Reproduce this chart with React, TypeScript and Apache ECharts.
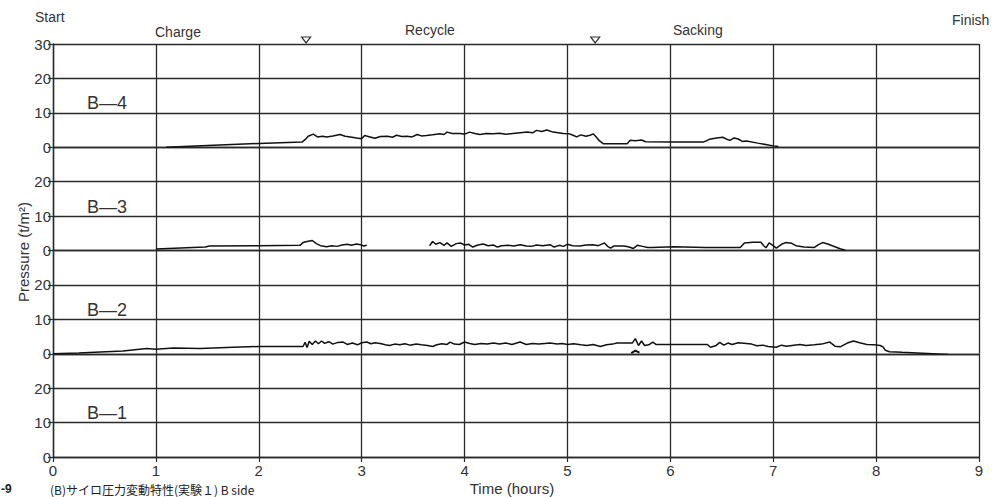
import React, { useEffect, useRef } from "react";
import * as echarts from "echarts";

// ---- data (hours, pressure t/m²) ----
const panelNames = ["B\u20144", "B\u20143", "B\u20142", "B\u20141"];
const yTicks = [0, 10, 20, 30];
const xTicks = [0, 1, 2, 3, 4, 5, 6, 7, 8, 9];
const phaseLabels = ["Charge", "Recycle", "Sacking"];
const phaseMarks = [2.46, 5.27];

const b4 = [
  [1.1, 0], [1.5, 0.5], [2.0, 1.1], [2.42, 1.5], [2.45, 2.2], [2.48, 3.2], [2.53, 3.8], [2.57, 3.0],
  [2.62, 3.2], [2.66, 3.0], [2.72, 3.3], [2.79, 3.7], [2.84, 3.2], [2.89, 3.0], [2.95, 2.7], [3.0, 2.5],
  [3.03, 3.4], [3.08, 3.0], [3.13, 2.6], [3.18, 3.1], [3.25, 3.2], [3.3, 2.9], [3.34, 3.5], [3.39, 3.1],
  [3.44, 3.2], [3.49, 3.0], [3.54, 3.7], [3.58, 3.3], [3.63, 3.4], [3.69, 3.6], [3.76, 3.9], [3.8, 3.7],
  [3.83, 4.4], [3.88, 4.0], [3.96, 4.0], [4.0, 3.8], [4.05, 4.4], [4.1, 4.0], [4.15, 3.7], [4.21, 4.0],
  [4.28, 3.9], [4.34, 4.1], [4.4, 3.8], [4.47, 4.0], [4.54, 4.2], [4.61, 4.4], [4.66, 4.2], [4.7, 4.9],
  [4.75, 4.6], [4.8, 5.0], [4.86, 4.4], [4.91, 4.2], [4.96, 4.0], [5.02, 3.9], [5.06, 3.4], [5.09, 3.0],
  [5.13, 3.6], [5.18, 3.2], [5.22, 3.5], [5.25, 3.9], [5.28, 3.0], [5.31, 1.9], [5.35, 1.0], [5.58, 1.0],
  [5.61, 2.0], [5.66, 1.9], [5.72, 2.1], [5.76, 1.6], [6.0, 1.5], [6.32, 1.5], [6.38, 2.3], [6.45, 2.7],
  [6.51, 2.9], [6.55, 2.3], [6.58, 2.0], [6.62, 2.7], [6.66, 2.4], [6.7, 1.7], [6.74, 1.8], [6.85, 1.2],
  [7.0, 0.4], [7.05, 0.2],
];

const b3a = [
  [1.0, 0.4], [1.3, 0.8], [1.48, 1.0], [1.52, 1.3], [2.0, 1.4], [2.4, 1.5], [2.43, 2.3], [2.48, 2.7],
  [2.52, 2.9], [2.56, 2.0], [2.6, 1.4], [2.66, 1.1], [2.71, 1.4], [2.76, 1.2], [2.81, 1.6], [2.86, 1.8],
  [2.9, 1.5], [2.95, 1.9], [2.99, 1.7], [3.02, 1.3], [3.05, 1.5],
];
const b3b = [
  [3.66, 1.4], [3.69, 2.6], [3.72, 1.8], [3.76, 2.3], [3.8, 1.5], [3.83, 2.2], [3.87, 1.2], [3.92, 2.0],
  [3.96, 2.2], [4.0, 1.6], [4.04, 1.8], [4.08, 1.0], [4.13, 1.6], [4.18, 1.9], [4.23, 1.4], [4.28, 1.6],
  [4.32, 1.0], [4.36, 1.4], [4.42, 1.5], [4.48, 1.3], [4.54, 1.7], [4.6, 1.3], [4.65, 1.2], [4.7, 1.6],
  [4.76, 1.4], [4.83, 1.7], [4.87, 1.0], [4.92, 1.5], [4.96, 1.2], [5.0, 1.8], [5.05, 1.4], [5.12, 1.3],
  [5.18, 1.6], [5.25, 1.7], [5.3, 1.4], [5.36, 2.2], [5.39, 1.2], [5.42, 0.7], [5.45, 1.3], [5.55, 1.3],
  [5.6, 1.0], [5.64, 0.6], [5.68, 1.5], [5.73, 1.2], [5.78, 0.9], [5.82, 0.9], [6.03, 1.1], [6.34, 0.9],
  [6.68, 0.9], [6.72, 2.2], [6.8, 2.4], [6.88, 2.4], [6.91, 1.3], [6.93, 0.8], [6.96, 2.2], [7.0, 1.4],
  [7.03, 0.7], [7.08, 1.8], [7.12, 2.3], [7.18, 2.1], [7.22, 1.4], [7.3, 1.0], [7.4, 0.9], [7.44, 1.7],
  [7.48, 2.3], [7.53, 1.9], [7.58, 1.3], [7.65, 0.5], [7.7, 0.1],
];

const b2 = [
  [0, 0], [0.25, 0.2], [0.46, 0.5], [0.68, 0.8], [0.91, 1.5], [1.0, 1.3], [1.17, 1.7], [1.43, 1.5],
  [1.75, 1.9], [2.0, 2.1], [2.43, 2.1], [2.45, 3.3], [2.47, 1.8], [2.49, 3.6], [2.52, 2.7], [2.55, 3.7],
  [2.58, 2.9], [2.61, 3.7], [2.64, 3.0], [2.68, 3.5], [2.72, 2.8], [2.77, 3.3], [2.82, 3.4], [2.86, 2.7],
  [2.91, 3.1], [2.96, 2.6], [3.0, 3.2], [3.05, 3.4], [3.09, 2.9], [3.13, 3.2], [3.18, 3.0], [3.23, 2.6],
  [3.27, 2.4], [3.32, 2.8], [3.37, 2.6], [3.42, 2.9], [3.47, 2.5], [3.53, 2.8], [3.58, 2.6], [3.64, 2.4],
  [3.69, 2.1], [3.73, 2.6], [3.78, 2.9], [3.83, 2.7], [3.86, 3.4], [3.9, 2.8], [3.95, 2.7], [4.0, 3.4],
  [4.05, 3.0], [4.1, 2.7], [4.16, 3.0], [4.22, 2.8], [4.28, 3.1], [4.34, 2.8], [4.4, 3.1], [4.46, 2.7],
  [4.54, 3.4], [4.6, 2.7], [4.66, 3.0], [4.72, 2.8], [4.78, 3.0], [4.83, 3.1], [4.9, 2.8], [4.95, 3.0],
  [5.0, 2.7], [5.06, 2.9], [5.13, 2.6], [5.19, 2.4], [5.25, 2.7], [5.32, 2.1], [5.38, 2.6], [5.44, 2.8],
  [5.48, 3.1], [5.63, 3.1], [5.66, 4.4], [5.69, 2.4], [5.72, 3.7], [5.75, 2.4], [5.79, 2.6], [5.83, 3.4],
  [5.86, 2.7], [6.36, 2.7], [6.39, 1.9], [6.44, 2.3], [6.48, 3.3], [6.52, 2.5], [6.56, 3.1], [6.6, 2.7],
  [6.66, 3.2], [6.74, 3.0], [6.79, 2.8], [6.84, 2.3], [6.9, 2.5], [6.95, 2.1], [7.03, 1.9], [7.08, 2.5],
  [7.13, 2.2], [7.2, 2.5], [7.26, 2.7], [7.32, 2.4], [7.4, 2.6], [7.47, 2.8], [7.55, 3.4], [7.6, 2.2],
  [7.65, 2.0], [7.72, 3.1], [7.78, 3.7], [7.84, 3.2], [7.91, 2.7], [7.98, 2.6], [8.04, 2.4], [8.07, 1.9],
  [8.09, 1.0], [8.13, 0.6], [8.25, 0.4], [8.4, 0.2], [8.55, 0.0], [8.7, -0.2],
];
const b2blip = [[5.62, 0.2], [5.66, 0.9], [5.7, 0.3]];

// ---- layout ----
const GRID_LEFT = 53;
const GRID_WIDTH = 926;
const GRID_TOP = 44;
const PANEL_H = 103.25;
const INK = "#2a2a2a";
const FONT = "Liberation Sans, Arial, sans-serif";

export default function App() {
  const ref = useRef<HTMLDivElement>(null);

  useEffect(() => {
    if (!ref.current) return;
    const chart = echarts.init(ref.current, undefined, { renderer: "svg" });

    const grids = panelNames.map((_, i) => ({
      left: GRID_LEFT,
      width: GRID_WIDTH,
      top: GRID_TOP + i * PANEL_H,
      height: PANEL_H,
    }));

    const xAxes = panelNames.map((_, i) => {
      const bottom = i === panelNames.length - 1;
      return {
        type: "value",
        gridIndex: i,
        min: xTicks[0],
        max: xTicks[xTicks.length - 1],
        interval: 1,
        axisLine: { show: bottom, lineStyle: { color: INK, width: 1.4 } },
        axisTick: { show: bottom, length: 5, lineStyle: { color: INK, width: 1.2 } },
        axisLabel: {
          show: bottom,
          color: "#333",
          fontSize: 15,
          lineHeight: 15,
          fontFamily: FONT,
          margin: 6,
        },
        splitLine: { show: true, lineStyle: { color: INK, width: 1.3 } },
      };
    });

    const yAxes = panelNames.map((_, i) => ({
      type: "value",
      gridIndex: i,
      min: yTicks[0],
      max: yTicks[yTicks.length - 1],
      interval: 10,
      axisLine: { show: true, lineStyle: { color: INK, width: 1.4 } },
      axisTick: { show: true, length: 5, lineStyle: { color: INK, width: 1.2 } },
      axisLabel: {
        color: "#333",
        fontSize: 15,
        fontFamily: FONT,
        margin: 2,
        showMaxLabel: i === 0,
        showMinLabel: true,
      },
      splitLine: { show: true, lineStyle: { color: INK, width: 1.3 } },
    }));

    const lineSeries = (data: number[][], idx: number, extra: any = {}) => ({
      type: "line",
      xAxisIndex: idx,
      yAxisIndex: idx,
      data,
      symbol: "none",
      lineStyle: { color: "#111", width: 1.5 },
      silent: true,
      ...extra,
    });

    const texts: any[] = [
      { type: "text", left: 35, top: 10, style: { text: "Start", font: `14px ${FONT}`, fill: "#333" } },
      { type: "text", left: 952, top: 13, style: { text: "Finish", font: `14px ${FONT}`, fill: "#333" } },
      { type: "text", left: 155, top: 25, style: { text: phaseLabels[0], font: `14px ${FONT}`, fill: "#333" } },
      { type: "text", left: 405, top: 23, style: { text: phaseLabels[1], font: `14px ${FONT}`, fill: "#333" } },
      { type: "text", left: 673, top: 23, style: { text: phaseLabels[2], font: `14px ${FONT}`, fill: "#333" } },
      {
        type: "text",
        x: 23,
        y: 252,
        rotation: Math.PI / 2,
        style: {
          text: "Pressure (t/m²)",
          font: `15px ${FONT}`,
          fill: "#333",
          align: "center",
          verticalAlign: "middle",
        },
      },
      {
        type: "text",
        x: 512,
        y: 488,
        style: {
          text: "Time (hours)",
          font: `15px ${FONT}`,
          lineHeight: 15,
          fill: "#333",
          align: "center",
          verticalAlign: "middle",
        },
      },
      {
        type: "text",
        x: 1,
        y: 495,
        style: {
          text: "-9",
          font: `bold 12px ${FONT}`,
          lineHeight: 12,
          fill: "#222",
          verticalAlign: "bottom",
        },
      },
      {
        type: "text",
        x: 50,
        y: 495,
        style: {
          text: "(B)サイロ圧力変動特性(実験１) B side",
          font: `12px "Noto Sans CJK JP", ${FONT}`,
          lineHeight: 12,
          fill: "#222",
          verticalAlign: "bottom",
        },
      },
      ...panelNames.map((name, i) => ({
        type: "text",
        x: 87,
        y: GRID_TOP + (i + 1) * PANEL_H - 44,
        style: {
          text: name,
          font: `18px ${FONT}`,
          fill: "#333",
          verticalAlign: "middle",
        },
      })),
    ];

    chart.setOption({
      animation: false,
      backgroundColor: "#ffffff",
      grid: grids,
      xAxis: xAxes,
      yAxis: yAxes,
      graphic: texts,
      series: [
        lineSeries(b4, 0, {
          markPoint: {
            symbol: "triangle",
            symbolRotate: 180,
            symbolSize: [9, 6],
            symbolOffset: [0, -4],
            silent: true,
            label: { show: false },
            itemStyle: { color: "#fff", borderColor: "#333", borderWidth: 1.2 },
            data: phaseMarks.map((h) => ({ coord: [h, 30] })),
          },
        }),
        lineSeries(b3a, 1),
        lineSeries(b3b, 1),
        lineSeries(b2, 2),
        lineSeries(b2blip, 2, { lineStyle: { color: "#111", width: 2 } }),
      ],
    });

    return () => chart.dispose();
  }, []);

  return (
    <div
      ref={ref}
      style={{ position: "fixed", left: 0, top: 0, width: 998, height: 497, background: "#fff" }}
    />
  );
}
